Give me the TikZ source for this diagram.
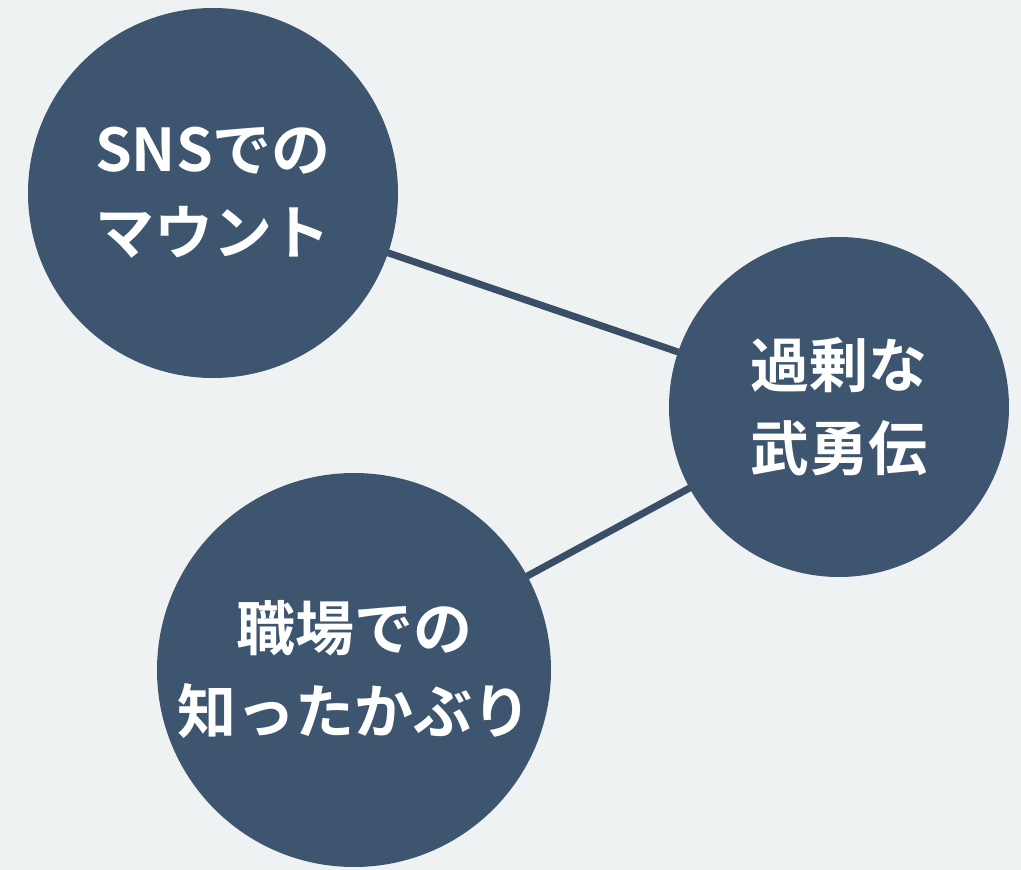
\documentclass[tikz,border=0pt]{standalone}
\usepackage{fontspec}
\newfontfamily\jpfont{Noto Sans CJK JP}[BoldFont={* Bold}]
\definecolor{bgcol}{HTML}{EFF2F3}
\definecolor{circcol}{HTML}{3E5570}
\definecolor{linecol}{HTML}{3A4E66}
\pgfdeclarelayer{bglayer}
\pgfdeclarelayer{linelayer}
\pgfsetlayers{bglayer,linelayer,main}
\tikzset{
  topic/.style={circle, fill=circcol, inner sep=0pt, text=white, align=center,
    font=\jpfont\bfseries\fontsize{59}{83}\selectfont},
  link/.style={draw=linecol, line width=7pt}
}
\begin{document}
\begin{tikzpicture}[x=1pt,y=-1pt]
\begin{pgfonlayer}{bglayer}
\fill[bgcol] (0,0) rectangle (1021,870);
\end{pgfonlayer}
\useasboundingbox (0,0) rectangle (1021,870);
\node[topic, minimum size=370pt] (sns) at (213,193) {SNSでの\\マウント};
\node[topic, minimum size=340pt] (bu) at (839,407) {過剰な\\武勇伝};
\node[topic, minimum size=394pt] (shoku) at (354,670) {職場での\\知ったかぶり};
\begin{pgfonlayer}{linelayer}
\draw[link] (sns.center) -- (bu.center);
\draw[link] (bu.center) -- (shoku.center);
\end{pgfonlayer}
\end{tikzpicture}
\end{document}
